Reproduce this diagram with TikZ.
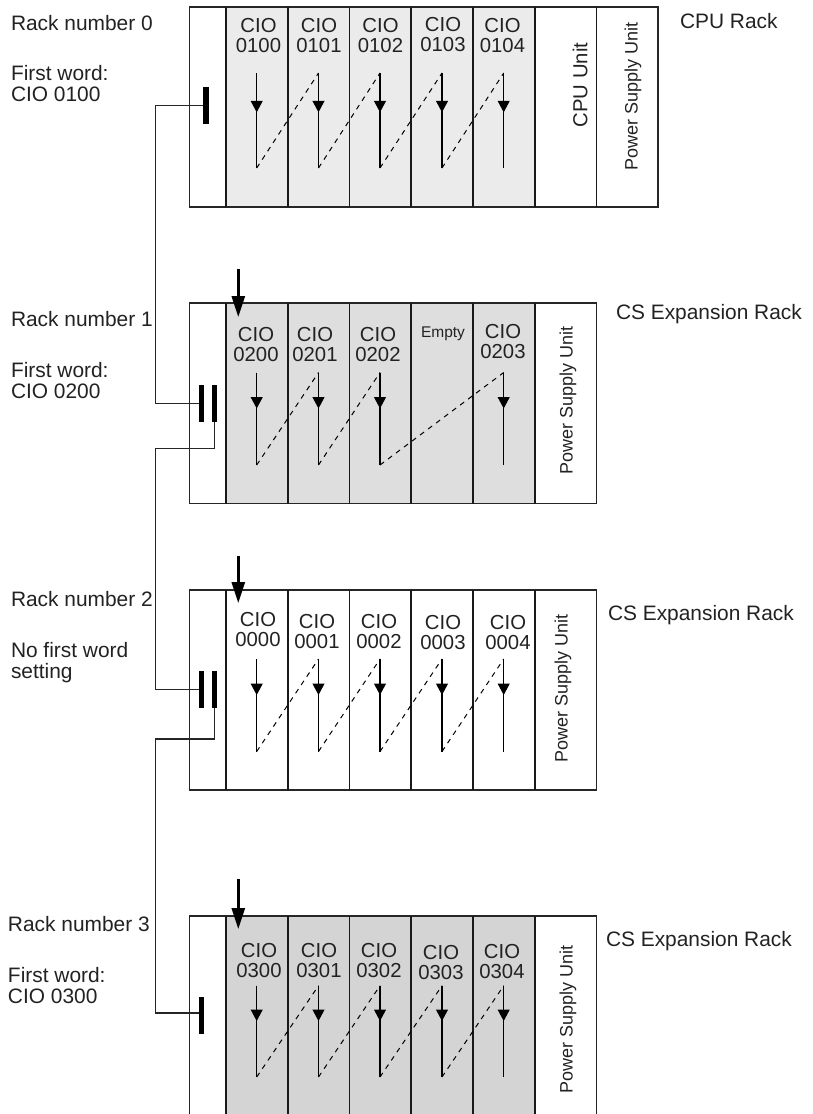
\documentclass[tikz,border=0pt]{standalone}
\usepackage{fontspec}
\setmainfont{Liberation Sans}
\usetikzlibrary{arrows.meta}
\definecolor{inkc}{HTML}{222222}
\definecolor{rackA}{HTML}{EBEBEB}
\definecolor{rackB}{HTML}{DEDEDE}
\definecolor{rackD}{HTML}{D4D4D4}
\tikzset{
  x=1pt,y=-1pt,
  txt/.style={inner sep=0pt,outer sep=0pt,text=inkc,font=\fontsize{20.3}{20}\selectfont},
  cio/.style={txt,align=center,anchor=center},
  lbl/.style={txt,align=left,anchor=north west,font=\fontsize{20.9}{21}\selectfont},
  psu/.style={txt,rotate=90,anchor=center,font=\fontsize{18}{20}\selectfont},
  empt/.style={txt,anchor=center,font=\fontsize{15.5}{18}\selectfont},
  rackline/.style={line width=1.2pt,draw=black!85},
  divider/.style={line width=1.5pt,draw=black!90},
  flowline/.style={line width=1.1pt,draw=black},
  flowhead/.style={line width=1.1pt,draw=black,-{Triangle[width=12pt,length=11.5pt]}},
  flowdash/.style={line width=1pt,draw=black,dash pattern=on 5pt off 5pt},
  bighead/.style={line width=2.6pt,draw=black,-{Triangle[width=13pt,length=21pt]}},
  barnode/.style={fill=black,minimum width=5.4pt,minimum height=37pt,inner sep=0pt,outer sep=0pt},
  wire/.style={line width=1.2pt,draw=black!85,line join=miter},
}
\newcommand{\colcoords}[4]{% rack, top, bottom, head tip
  \foreach \c/\x in {1/256.7,2/318.5,3/380,4/442,5/503.7}{
    \coordinate (t#1\c) at (\x,#2);
    \coordinate (b#1\c) at (\x,#3);
    \coordinate (h#1\c) at (\x,#4);
  }}
\newcommand{\flowcol}[2]{% rack, col
  \draw[flowline] (t#1#2) -- (b#1#2);
  \draw[flowhead] (t#1#2) -- (h#1#2);}
\begin{document}
\begin{tikzpicture}
\useasboundingbox (0,0) rectangle (812,1114);
% ---- fills
\fill[rackA] (226,7) rectangle (535,207);
\fill[rackB] (226,303) rectangle (535,503.5);
\fill[rackD] (226,916) rectangle (535,1114);
% ---- rack 0
\draw[rackline] (189.5,7) rectangle (658,207);
\foreach \x in {226,288,349.5,411,473,535,596.5}{\draw[divider] (\x,7) -- (\x,207);}
% ---- rack 1
\draw[rackline] (189.5,303) rectangle (596.5,503.5);
\foreach \x in {226,288,349.5,411,473,535}{\draw[divider] (\x,303) -- (\x,503.5);}
% ---- rack 2
\draw[rackline] (189.5,590) rectangle (596.5,790);
\foreach \x in {226,288,349.5,411,473,535}{\draw[divider] (\x,590) -- (\x,790);}
% ---- rack 3 (runs off the page)
\draw[rackline] (189.5,1114) -- (189.5,916) -- (596.5,916) -- (596.5,1114);
\foreach \x in {226,288,349.5,411,473,535}{\draw[divider] (\x,916) -- (\x,1114);}
% ---- unit labels rack 0
\node[cio] (c0100) at (258.5,36) {CIO\\0100};
\node[cio] (c0101) at (319,36) {CIO\\0101};
\node[cio] (c0102) at (380.5,36) {CIO\\0102};
\node[cio] (c0103) at (443,34.5) {CIO\\0103};
\node[cio] (c0104) at (502.5,36) {CIO\\0104};
\node[txt,rotate=90,anchor=center] (cpuunit) at (580,85) {CPU Unit};
\node[psu] (psu0) at (633,96) {Power Supply Unit};
% ---- unit labels rack 1
\node[cio] (c0200) at (256,345) {CIO\\0200};
\node[cio] (c0201) at (315,345) {CIO\\0201};
\node[cio] (c0202) at (378,345) {CIO\\0202};
\node[empt] (empty) at (443,333.5) {Empty};
\node[cio] (c0203) at (503,342) {CIO\\0203};
\node[psu] (psu1) at (568,400) {Power Supply Unit};
% ---- unit labels rack 2
\node[cio] (c0000) at (258,630) {CIO\\0000};
\node[cio] (c0001) at (317,632) {CIO\\0001};
\node[cio] (c0002) at (379,632) {CIO\\0002};
\node[cio] (c0003) at (443,633) {CIO\\0003};
\node[cio] (c0004) at (508,633) {CIO\\0004};
\node[psu] (psu2) at (563,688) {Power Supply Unit};
% ---- unit labels rack 3
\node[cio] (c0300) at (259,960) {CIO\\0300};
\node[cio] (c0301) at (319,960) {CIO\\0301};
\node[cio] (c0302) at (379,960) {CIO\\0302};
\node[cio] (c0303) at (441,962) {CIO\\0303};
\node[cio] (c0304) at (502,961) {CIO\\0304};
\node[psu] (psu3) at (568,1019) {Power Supply Unit};
% ---- word order flows
\colcoords{0}{73}{168}{112.3}
\colcoords{1}{372.5}{465}{408.5}
\colcoords{2}{659}{751.5}{695}
\colcoords{3}{985.7}{1077}{1021}
\foreach \r in {0,1,2,3}{
  \foreach \c in {1,2,3,5}{\flowcol{\r}{\c}}
}
\foreach \r in {0,2,3}{\flowcol{\r}{4}
  \draw[flowdash] (b\r1) -- (t\r2);
  \draw[flowdash] (b\r2) -- (t\r3);
  \draw[flowdash] (b\r3) -- (t\r4);
  \draw[flowdash] (b\r4) -- (t\r5);
}
\draw[flowdash] (b11) -- (t12);
\draw[flowdash] (b12) -- (t13);
\draw[flowdash] (b13) -- (t15);
% ---- start arrows
\coordinate (a1s) at (238.3,269);   \coordinate (a1e) at (238.3,317);
\coordinate (a2s) at (238.3,555.5); \coordinate (a2e) at (238.3,603);
\coordinate (a3s) at (238.3,879);   \coordinate (a3e) at (238.3,929);
\draw[bighead] (a1s) -- (a1e);
\draw[bighead] (a2s) -- (a2e);
\draw[bighead] (a3s) -- (a3e);
% ---- connector bars
\node[barnode] (bar0)  at (205.8,105.5) {};
\node[barnode] (bar1a) at (201.5,403.5) {};
\node[barnode] (bar1b) at (214.7,403.5) {};
\node[barnode] (bar2a) at (201.5,689.5) {};
\node[barnode] (bar2b) at (214.7,689.5) {};
\node[barnode] (bar3)  at (201.5,1015.5) {};
% ---- cables
\draw[wire] (bar0.west) -- (155.5,105.5) -- (155.5,403.5) -- (bar1a.west);
\draw[wire] (bar1b.south) -- (214.7,448.7) -- (155.5,448.7) -- (155.5,689.5) -- (bar2a.west);
\draw[wire] (bar2b.south) -- (214.7,739) -- (155.5,739) -- (155.5,1013) -- (bar3.west |- 0,1013);
% ---- rack labels
\node[lbl] (rn0) at (11,15) {Rack number 0};
\node[lbl] (fw0) at (11,65.7) {First word:\\CIO 0100};
\node[lbl] (rn1) at (11,311) {Rack number 1};
\node[lbl] (fw1) at (11,362) {First word:\\CIO 0200};
\node[lbl] (rn2) at (11,591) {Rack number 2};
\node[lbl] (fw2) at (11,642) {No first word\\setting};
\node[lbl] (rn3) at (8,916) {Rack number 3};
\node[lbl] (fw3) at (8,967) {First word:\\CIO 0300};
\node[lbl] (cr0) at (680,13.5) {CPU Rack};
\node[lbl] (cr1) at (616,304) {CS Expansion Rack};
\node[lbl] (cr2) at (608,605.5) {CS Expansion Rack};
\node[lbl] (cr3) at (606,931.5) {CS Expansion Rack};
\end{tikzpicture}
\end{document}
